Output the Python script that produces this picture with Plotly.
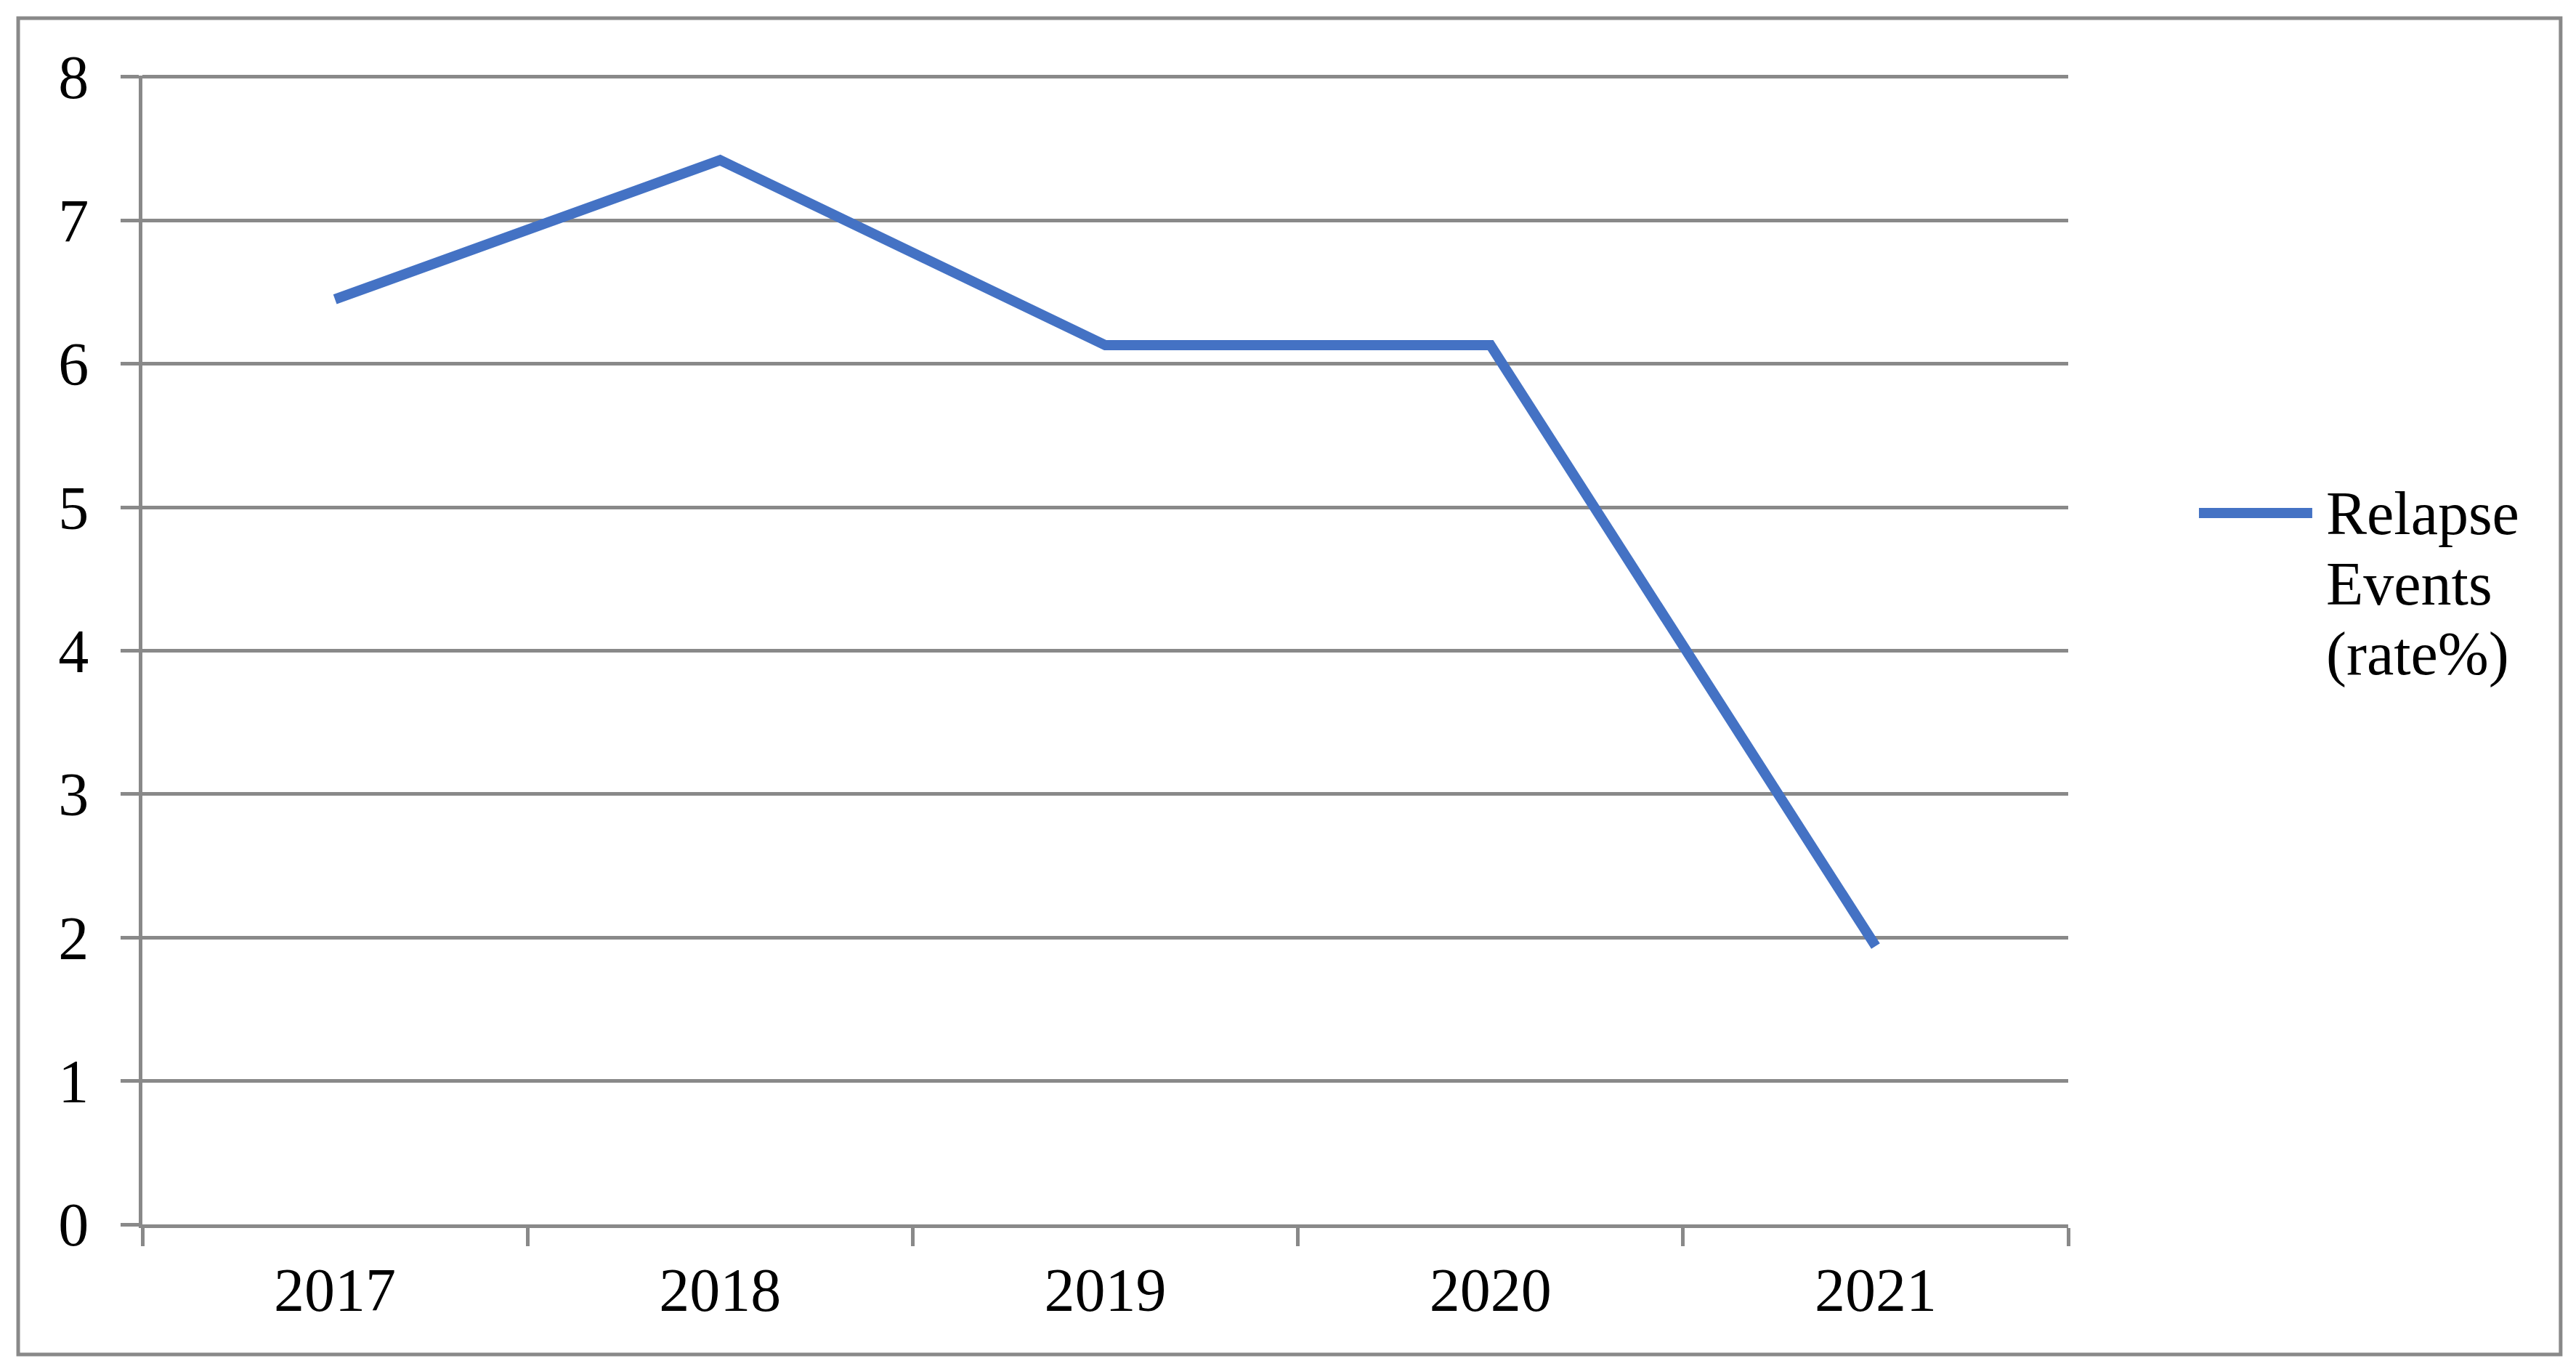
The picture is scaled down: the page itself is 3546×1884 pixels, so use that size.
import plotly.graph_objects as go

# ---- data ----
years = ["2017", "2018", "2019", "2020", "2021"]
relapse_rate = [6.45, 7.42, 6.13, 6.13, 1.94]
series_name_lines = ["Relapse", "Events", "(rate%)"]
y_ticks = [0, 1, 2, 3, 4, 5, 6, 7, 8]

# ---- layout geometry (pixels) ----
W, H = 3546, 1884
Y_TOP = 8.01
L, R, B = 195.5, 2847, 1685.5
UNIT = 197.5
T = B - Y_TOP * UNIT
PW, PH = R - L, B - T
GRAY = "#898989"
BLUE = "#4472C4"
FONT = "Liberation Serif, Times New Roman, serif"
FS = 84


def px_x(x):
    return (x - L) / PW


def px_y(y):
    return (B - y) / PH


fig = go.Figure()
fig.add_trace(go.Scatter(
    x=years, y=relapse_rate, mode="lines",
    line=dict(color=BLUE, width=14),
    name=" ".join(series_name_lines), showlegend=False,
))

fig.update_layout(
    width=W, height=H,
    margin=dict(l=L, r=W - R, t=T, b=H - B, pad=0),
    paper_bgcolor="white", plot_bgcolor="white",
    font=dict(family=FONT, size=FS, color="black"),
    showlegend=False,
)
fig.update_xaxes(
    type="category", range=[-0.5, len(years) - 0.5],
    tickson="boundaries", ticks="outside", ticklen=25,
    tickwidth=5, tickcolor=GRAY, showline=True, linecolor=GRAY, linewidth=5,
    showgrid=False, zeroline=False, ticklabelstandoff=13,
    tickfont=dict(family=FONT, size=FS, color="black"),
)
fig.update_yaxes(
    range=[0, Y_TOP], tickvals=y_ticks, ticks="outside", ticklen=25, tickwidth=5,
    tickcolor=GRAY, showline=True, linecolor=GRAY, linewidth=5,
    showgrid=True, gridcolor=GRAY, gridwidth=5, zeroline=False,
    ticklabelstandoff=27,
    tickfont=dict(family=FONT, size=FS, color="black"),
)

# outer border
fig.add_shape(type="rect", xref="paper", yref="paper",
              x0=px_x(24.5), x1=px_x(3525), y0=px_y(1864.5), y1=px_y(24.5),
              line=dict(color=GRAY, width=5), fillcolor="rgba(0,0,0,0)", layer="below")

# manual legend
fig.add_shape(type="line", xref="paper", yref="paper",
              x0=px_x(3027), x1=px_x(3183), y0=px_y(706), y1=px_y(706),
              line=dict(color=BLUE, width=14))
for i, txt in enumerate(series_name_lines):
    fig.add_annotation(xref="paper", yref="paper", x=px_x(3200),
                       y=px_y(706 + i * 97), text=txt, showarrow=False,
                       xanchor="left", yanchor="middle",
                       font=dict(family=FONT, size=FS, color="black"))

fig.write_html("out.html", config={"displayModeBar": False},
               post_script="document.body.style.margin='0';")
